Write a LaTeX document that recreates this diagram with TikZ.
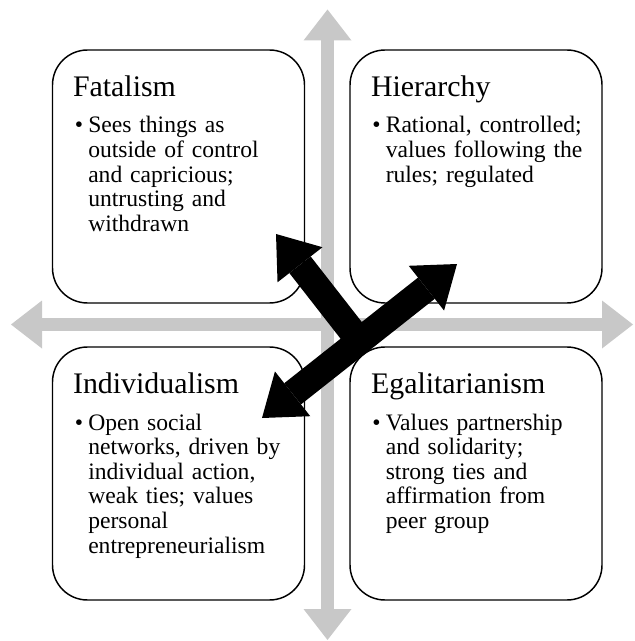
\documentclass[tikz,border=0pt]{standalone}
\usepackage{fontspec}
\setmainfont{Liberation Serif}
\usetikzlibrary{arrows.meta,calc}
\definecolor{axisgray}{RGB}{200,200,200}
\begin{document}
\begin{tikzpicture}[x=0.75pt,y=-0.75pt,
  panel/.style={draw=black,line width=1.1pt,rounded corners=26.25pt,minimum width=189pt,minimum height=189.75pt,inner sep=0pt,outer sep=0pt},
  ttl/.style={anchor=base west,inner sep=0pt,font=\fontsize{22.4pt}{26pt}\selectfont},
  bul/.style={anchor=base west,inner sep=0pt,font=\fontsize{17.7pt}{18.45pt}\selectfont},
  txt/.style={anchor=base west,inner sep=0pt,text width=165pt,align=left,font=\fontsize{17.7pt}{18.45pt}\selectfont},
  gtip/.style={Triangle[length=23.25pt,width=36pt,line width=0pt]},
  axis/.style={draw=axisgray,line width=10.1pt,{Triangle[length=23.25pt,width=36pt,line width=0pt]}-{Triangle[length=23.25pt,width=36pt,line width=0pt]}},
  force/.style={draw=black,line width=20.25pt,-{Triangle[length=29.25pt,width=42.75pt,line width=0pt]}},
  forcetwo/.style={draw=black,line width=20.25pt,{Triangle[length=29.25pt,width=42.75pt,line width=0pt]}-{Triangle[length=29.25pt,width=42.75pt,line width=0pt]}}
]
\useasboundingbox (0,0) rectangle (634,641);
% grey axes
\coordinate (vtop) at (327.5,9.5);
\coordinate (vbot) at (327.5,640);
\coordinate (hl) at (11,324.5);
\coordinate (hr) at (633,324.5);
\draw[axis] (vtop) -- (vbot);
\draw[axis] (hl) -- (hr);

% panels
\node[panel] (fat) at (178.5,176.5) {};
\node[panel] (hier) at (476,176.5) {};
\node[panel] (ind) at (178.5,473.5) {};
\node[panel] (egal) at (476,473.5) {};

\node[ttl] (fatT) at ([shift={(20.3,46.7)}]fat.north west) {Fatalism};
\node[bul] (fatB) at ([shift={(22,83)}]fat.north west) {\textbullet};
\node[txt] (fatX) at ([shift={(35.5,83)}]fat.north west) {Sees things as\\outside of control\\and capricious;\\untrusting and\\withdrawn};

\node[ttl] (hierT) at ([shift={(20.8,46.7)}]hier.north west) {Hierarchy};
\node[bul] (hierB) at ([shift={(22,83)}]hier.north west) {\textbullet};
\node[txt] (hierX) at ([shift={(35.5,83)}]hier.north west) {Rational, controlled;\\values following the\\rules; regulated};

\node[ttl] (indT) at ([shift={(20.3,46.7)}]ind.north west) {Individualism};
\node[bul] (indB) at ([shift={(22,83)}]ind.north west) {\textbullet};
\node[txt] (indX) at ([shift={(35.5,83)}]ind.north west) {Open social\\networks, driven by\\individual action,\\weak ties; values\\personal\\entrepreneurialism};

\node[ttl] (egalT) at ([shift={(20.8,46.7)}]egal.north west) {Egalitarianism};
\node[bul] (egalB) at ([shift={(22,83)}]egal.north west) {\textbullet};
\node[txt] (egalX) at ([shift={(35.5,83)}]egal.north west) {Values partnership\\and solidarity;\\strong ties and\\affirmation from\\peer group};

% black arrows
\coordinate (pI) at (262,418);
\coordinate (pH) at (457,264);
\coordinate (pM) at ($(pI)!0.5!(pH)$);
\coordinate (pF) at (276,234);
\draw[force] (pM) -- (pF);
\draw[forcetwo] (pI) -- (pH);
\end{tikzpicture}
\end{document}
